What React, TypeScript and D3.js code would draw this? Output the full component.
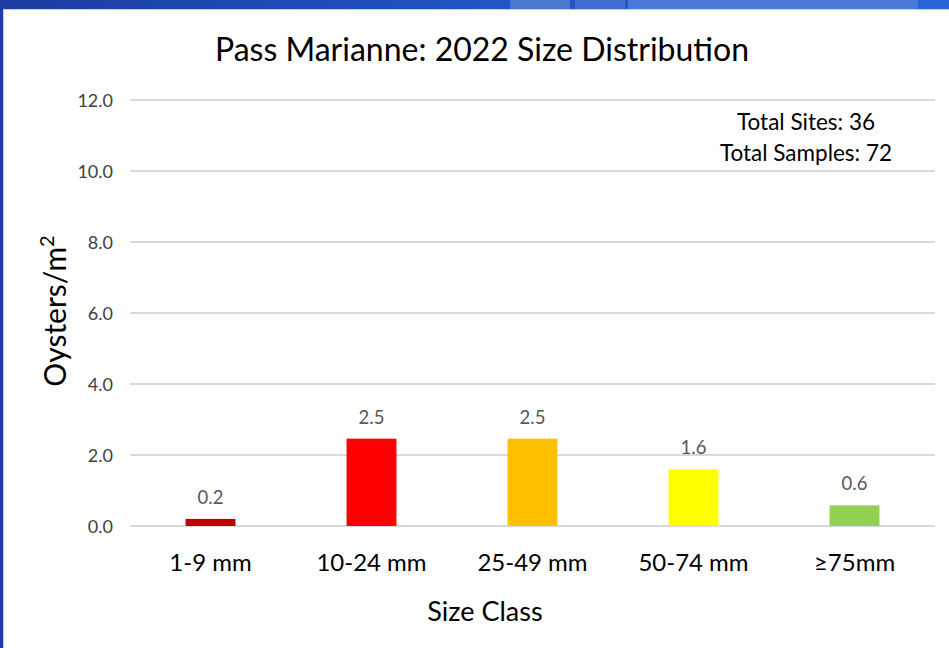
import React from "react";
import * as d3 from "d3";

const categories = ["1-9 mm", "10-24 mm", "25-49 mm", "50-74 mm", "≥75mm"];
const values = [0.2, 2.46, 2.46, 1.6, 0.58];
const labels = ["0.2", "2.5", "2.5", "1.6", "0.6"];
const colors = ["#C00000", "#FF0000", "#FFC000", "#FFFF00", "#92D050"];
const yTicks = [0, 2, 4, 6, 8, 10, 12];
const title = "Pass Marianne: 2022 Size Distribution";
const notes = ["Total Sites: 36", "Total Samples: 72"];

const W = 949, H = 648;
const FONT = "Lato, 'Open Sans', sans-serif";

export default function App() {
  const x = d3.scaleBand<string>().domain(categories).range([130, 935]).paddingInner(0.69).paddingOuter(0.345);
  const y = d3.scaleLinear().domain([0, 12]).range([526, 100]);
  return (
    <div style={{ position: "fixed", left: 0, top: 0 }}>
      <svg width={W} height={H} style={{ display: "block" }}>
        <defs>
          <linearGradient id="topbar" x1="0" x2="1" y1="0" y2="0">
            <stop offset="0" stopColor="#1B3DA0" />
            <stop offset="0.5" stopColor="#2153C4" />
            <stop offset="1" stopColor="#2A66D6" />
          </linearGradient>
        </defs>
        <rect x={0} y={0} width={W} height={H} fill="#ffffff" />
        <rect x={0} y={0} width={W} height={9} fill="url(#topbar)" />
        <rect x={510} y={0} width={60} height={9} fill="#4A78D0" />
        <rect x={575} y={0} width={50} height={9} fill="#3F6ED0" />
        <rect x={628} y={0} width={290} height={9} fill="#4A7AD8" />
        <rect x={0} y={0} width={3} height={H} fill="#1B3DA0" />
        <line x1={3} x2={W} y1={9.5} y2={9.5} stroke="#D0D0D0" />
        <line x1={3.5} x2={3.5} y1={9} y2={H} stroke="#D0D0D0" />

        <text x={482} y={61} textAnchor="middle" fontFamily={FONT} fontSize={32} fill="#000">{title}</text>

        {yTicks.map(t => (
          <g key={t}>
            <line x1={130} x2={935} y1={y(t)} y2={y(t)} stroke="#D9D9D9" strokeWidth={2} />
            <text x={113} y={y(t) + 6.5} textAnchor="end" fontFamily={FONT} fontSize={18} fill="#404040">{t.toFixed(1)}</text>
          </g>
        ))}

        {categories.map((c, i) => (
          <g key={c}>
            <rect x={x(c)} y={y(values[i])} width={x.bandwidth()} height={y(0) - y(values[i])} fill={colors[i]} />
            <text x={(x(c) as number) + x.bandwidth() / 2} y={y(values[i]) - 15} textAnchor="middle" fontFamily={FONT} fontSize={18.5} fill="#595959">{labels[i]}</text>
            <text x={(x(c) as number) + x.bandwidth() / 2} y={571} textAnchor="middle" fontFamily={FONT} fontSize={24} fill="#000">{c}</text>
          </g>
        ))}

        <text x={485} y={621} textAnchor="middle" fontFamily={FONT} fontSize={27} fill="#000">Size Class</text>
        <text transform="translate(66,311) rotate(-90)" textAnchor="middle" fontFamily={FONT} fontSize={30} fill="#000">
          Oysters/m<tspan fontSize={20} dy={-12}>2</tspan>
        </text>

        {notes.map((n, i) => (
          <text key={n} x={806} y={130 + i * 31} textAnchor="middle" fontFamily={FONT} fontSize={22.5} fill="#000">{n}</text>
        ))}
      </svg>
    </div>
  );
}
